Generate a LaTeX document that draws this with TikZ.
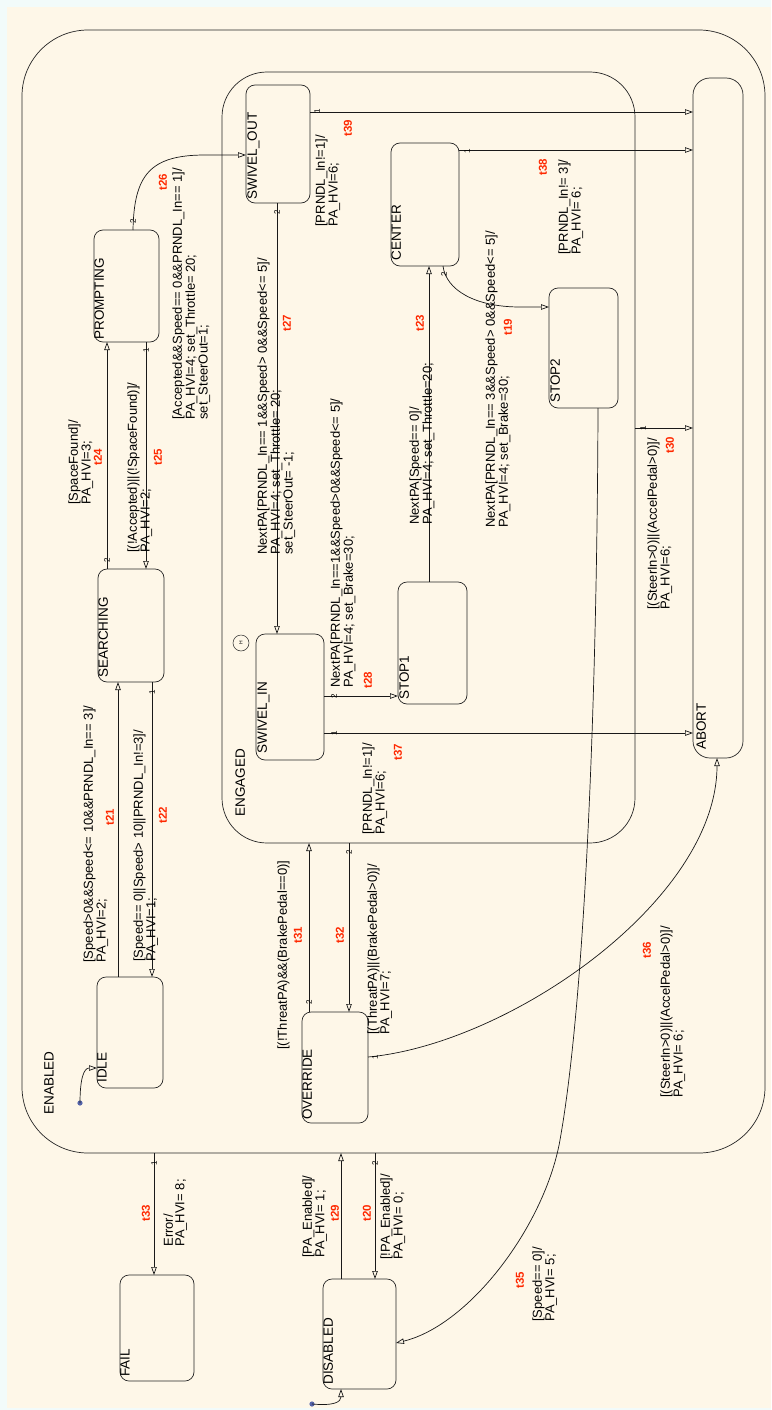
\documentclass[tikz,border=0pt]{standalone}
\usepackage{fontspec}
\setmainfont{Liberation Sans}
\usetikzlibrary{arrows.meta}

\definecolor{pagebg}{RGB}{242,251,250}
\definecolor{chartbg}{RGB}{254,247,232}
\definecolor{tred}{RGB}{255,40,0}
\definecolor{dotblue}{RGB}{85,100,170}

\begin{document}
\begin{tikzpicture}[x=1pt,y=-1pt,line width=0.7pt,
	st/.style={draw=black!85, rounded corners=9, inner sep=0pt, outer sep=0pt},
	stname/.style={rotate=90, anchor=north west, inner sep=0pt, font=\fontsize{13.5}{14}\selectfont},
	tr/.style={draw=black!90, -{Triangle[open,length=8pt,width=5.5pt]}},
	guard/.style={rotate=90, anchor=north west, inner sep=0pt, align=left, font=\fontsize{13}{11.5}\selectfont},
	tid/.style={rotate=90, inner sep=0pt, text=tred, font=\fontsize{11.5}{11.5}\bfseries\selectfont},
	port/.style={rotate=90, inner sep=0.3pt, font=\fontsize{8}{8}\selectfont}]

	% paper
	\useasboundingbox (0,0) rectangle (771,1410);
	\fill[pagebg] (0,0) rectangle (771,1410);
	\fill[chartbg] (7,7) rectangle (771,1408);

	% superstates
	\node[st, rounded corners=66, minimum width=743, minimum height=1123] (enabled) at (393.5,591.5) {};
	\node[st, rounded corners=45, minimum width=413, minimum height=771] (engaged) at (428.5,457.5) {};
	\node[stname] (enabledname) at (44,1115) {ENABLED};
	\node[stname] (engagedname) at (235,817) {ENGAGED};

	% states
	\node[st, rounded corners=17, minimum width=50, minimum height=680] (abort) at (718,418) {};
	\node[st, minimum width=64, minimum height=118] (swout) at (278,144) {};
	\node[st, minimum width=68, minimum height=123] (center) at (425,204.5) {};
	\node[st, minimum width=69, minimum height=120] (stop2) at (583.5,348) {};
	\node[st, minimum width=68, minimum height=126] (swin) at (290,697) {};
	\node[st, minimum width=69, minimum height=122] (stop1) at (432.5,643) {};
	\node[st, minimum width=65, minimum height=112] (prompt) at (126.5,286) {};
	\node[st, minimum width=66, minimum height=113] (search) at (131,625.5) {};
	\node[st, minimum width=66, minimum height=111] (idle) at (130,1032.5) {};
	\node[st, minimum width=66, minimum height=111] (override) at (335,1067.5) {};
	\node[st, minimum width=74, minimum height=106] (fail) at (157,1328) {};
	\node[st, minimum width=73, minimum height=110] (disabled) at (359.5,1334) {};

	% state names
	\node[stname] (abortname) at ([shift={(3,-8)}]abort.south west) {ABORT};
	\node[stname] (swoutname) at ([shift={(1,-3)}]swout.south west) {SWIVEL\_OUT};
	\node[stname] (centername) at ([shift={(0,-5)}]center.south west) {CENTER};
	\node[stname] (stop2name) at ([shift={(1,-5)}]stop2.south west) {STOP2};
	\node[stname] (swinname) at ([shift={(1,-6)}]swin.south west) {SWIVEL\_IN};
	\node[stname] (stop1name) at ([shift={(1,-4)}]stop1.south west) {STOP1};
	\node[stname] (promptname) at ([shift={(0,-2)}]prompt.south west) {PROMPTING};
	\node[stname] (searchname) at ([shift={(0,-4)}]search.south west) {SEARCHING};
	\node[stname] (idlename) at ([shift={(0,-5)}]idle.south west) {IDLE};
	\node[stname] (overridename) at ([shift={(0,-3)}]override.south west) {OVERRIDE};
	\node[stname] (failname) at ([shift={(0,-4)}]fail.south west) {FAIL};
	\node[stname] (disabledname) at ([shift={(0,-4)}]disabled.south west) {DISABLED};

	% history junction
	\node[draw=black!85, line width=0.5pt, circle, minimum size=16, inner sep=0pt, rotate=90,
		font=\fontsize{5}{5}\selectfont] (hist) at (241,643) {H};

	% default transitions
	\coordinate (idledot) at (80,1103);
	\coordinate (disdot) at (312,1404);
	\fill[dotblue] (idledot) circle (2.6);
	\fill[dotblue] (disdot) circle (2.6);
	\draw[tr] (idledot) .. controls (80,1078) and (84,1068) .. (idle.west |- 0,1068);
	\draw[tr] (disdot) .. controls (334,1406) and (341,1402) .. (disabled.south -| 341,0);

	% into ABORT
	\draw[tr] (swout.east |- 0,112) -- (abort.west |- 0,112);
	\draw[tr] (center.east |- 0,150) -- (abort.west |- 0,150);
	\draw[tr] (engaged.east |- 0,428) -- (abort.west |- 0,428);
	\draw[tr] (swin.east |- 0,733) -- (abort.west |- 0,733);
	\draw[tr] (override.east |- 0,1057) .. controls (510,1044) and (717,900) .. (abort.south -| 717,0);

	% inside ENGAGED
	\draw[tr] (swout.south -| 277,0) -- (swin.north -| 277,0);
	\draw[tr] (swin.east |- 0,696) -- (stop1.west |- 0,696);
	\draw[tr] (stop1.north -| 429,0) -- (center.south -| 429,0);
	\draw[tr] (center.south -| 443,0) .. controls (446,290) and (475,307) .. (520,307) -- (stop2.west |- 0,307);

	% search and prompt
	\draw[tr] (prompt.north -| 133,0) .. controls (134,175) and (150,155) .. (205,155) -- (swout.west |- 0,155);
	\draw[tr] (search.north -| 107,0) -- (prompt.south -| 107,0);
	\draw[tr] (prompt.south -| 146,0) -- (search.north -| 146,0);
	\draw[tr] (idle.north -| 118,0) -- (search.south -| 118,0);
	\draw[tr] (search.south -| 152,0) -- (idle.north -| 152,0);

	% override
	\draw[tr] (override.north -| 309,0) -- (engaged.south -| 309,0);
	\draw[tr] (engaged.south -| 349,0) -- (override.north -| 349,0);

	% leaving ENABLED
	\draw[tr] (enabled.south -| 154,0) -- (fail.north -| 154,0);
	\draw[tr] (disabled.north -| 341,0) -- (enabled.south -| 341,0);
	\draw[tr] (enabled.south -| 375,0) -- (disabled.north -| 375,0);
	\draw[tr] (stop2.south -| 598,0) .. controls (597,700) and (585,1000) .. (560,1140)
		.. controls (545,1225) and (470,1325) .. (disabled.east |- 0,1343);

	% execution order
	\node[port] (p39) at (317,111) {1};
	\node[port] (p38) at (467,151) {1};
	\node[port] (p26) at (133,221) {2};
	\node[port] (p27) at (277,212) {2};
	\node[port] (p19) at (444,274) {2};
	\node[port] (p24) at (107,560) {2};
	\node[port] (p25) at (146,350) {1};
	\node[port] (p22) at (152,692) {1};
	\node[port] (p28) at (334,696) {2};
	\node[port] (p37) at (334,733) {1};
	\node[port] (p30) at (643,428) {1};
	\node[port] (p31) at (309,1002) {2};
	\node[port] (p32) at (349,852) {2};
	\node[port] (p36) at (375,1057) {1};
	\node[port] (p33) at (154,1163) {1};
	\node[port] (p20) at (375,1163) {2};

	% guards and actions
	\node[guard] (g39) at (315,227) {[PRNDL\_In!=1]/\\PA\_HVI=6;};
	\node[guard] (g38) at (558,255) {[PRNDL\_In!= 3]/\\PA\_HVI= 6;};
	\node[guard] (g26) at (172,420) {[Accepted\&\&Speed== 0\&\&PRNDL\_In== 1]/\\PA\_HVI=4; set\_Throttle= 20;\\set\_SteerOut=1;};
	\node[guard] (g24) at (68,505) {[SpaceFound]/\\PA\_HVI=3;};
	\node[guard] (g25) at (127,553) {[(!Accepted)||(!SpaceFound)]/\\PA\_HVI=2;};
	\node[guard] (g27) at (257,555) {NextPA[PRNDL\_In== 1\&\&Speed> 0\&\&Speed<= 5]/\\PA\_HVI=4; set\_Throttle= 20;\\set\_SteerOut= -1;};
	\node[guard] (g28) at (330,688) {NextPA[PRNDL\_In==1\&\&Speed>0\&\&Speed<= 5]/\\PA\_HVI=4; set\_Brake=30;};
	\node[guard] (g37) at (362,835) {[PRNDL\_In!=1]/\\PA\_HVI=6;};
	\node[guard] (g23) at (409,525) {NextPA[Speed== 0]/\\PA\_HVI=4; set\_Throttle=20;};
	\node[guard] (g19) at (485,528) {NextPA[PRNDL\_In== 3\&\&Speed> 0\&\&Speed<= 5]/\\PA\_HVI=4; set\_Brake=30;};
	\node[guard] (g30) at (647,610) {[(SteerIn>0)||(AccelPedal>0)]/\\PA\_HVI=6;};
	\node[guard] (g21) at (83,963) {[Speed>0\&\&Speed<= 10\&\&PRNDL\_In== 3]/\\PA\_HVI=2;};
	\node[guard] (g22) at (133,962) {[Speed== 0||Speed> 10||PRNDL\_In!=3]/\\PA\_HVI=1;};
	\node[guard] (g31) at (277,1050) {[(!ThreatPA)\&\&(BrakePedal==0)]};
	\node[guard] (g32) at (367,1035) {[(ThreatPA)||(BrakePedal>0)]/\\PA\_HVI=7;};
	\node[guard] (g36) at (660,1098) {[(SteerIn>0)||(AccelPedal>0)]/\\PA\_HVI= 6;};
	\node[guard] (g35) at (532,1322) {[Speed== 0]/\\PA\_HVI= 5;};
	\node[guard] (g33) at (163,1247) {Error/\\PA\_HVI= 8;};
	\node[guard] (g29) at (302,1258) {[PA\_Enabled]/\\PA\_HVI= 1;};
	\node[guard] (g20) at (380,1260) {[!PA\_Enabled]/\\PA\_HVI= 0;};

	% transition ids
	\node[tid] (n39) at (348,128) {t39};
	\node[tid] (n38) at (543,167) {t38};
	\node[tid] (n26) at (163,182) {t26};
	\node[tid] (n24) at (98,457) {t24};
	\node[tid] (n25) at (158,457) {t25};
	\node[tid] (n27) at (287,323) {t27};
	\node[tid] (n23) at (420,323) {t23};
	\node[tid] (n19) at (508,327) {t19};
	\node[tid] (n28) at (368,680) {t28};
	\node[tid] (n37) at (398,752) {t37};
	\node[tid] (n30) at (670,445) {t30};
	\node[tid] (n21) at (110,817) {t21};
	\node[tid] (n22) at (163,815) {t22};
	\node[tid] (n31) at (298,935) {t31};
	\node[tid] (n32) at (340,935) {t32};
	\node[tid] (n36) at (647,950) {t36};
	\node[tid] (n35) at (520,1280) {t35};
	\node[tid] (n33) at (146,1213) {t33};
	\node[tid] (n29) at (335,1213) {t29};
	\node[tid] (n20) at (367,1213) {t20};

\end{tikzpicture}
\end{document}
